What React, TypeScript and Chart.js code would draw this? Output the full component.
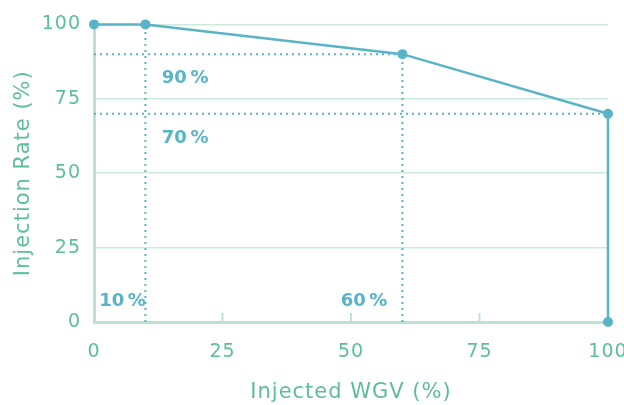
import React, { useEffect, useRef } from "react";
import { Chart, registerables } from "chart.js";

Chart.register(...registerables);

// Data
const curveX = [0, 10, 60, 100, 100];
const curveY = [100, 100, 90, 70, 0];
const guide90X = [0, 60];
const guide90Y = [90, 90];
const guide70X = [0, 100];
const guide70Y = [70, 70];
const guide10X = [10, 10];
const guide10Y = [0, 100];
const guide60X = [60, 60];
const guide60Y = [0, 90];
const xTicks = [0, 25, 50, 75, 100];
const yTicks = [0, 25, 50, 75, 100];
const minorTickMarks = [25, 50, 75];
const annotationTexts = ["90\u2009%", "70\u2009%", "10\u2009%", "60\u2009%"];
const annotationX = [13.2, 13.2, 1, 48];
const annotationY = [81.9, 61.8, 6.9, 6.9];

const LINE = "#58b4c6";
const GREEN = "#5cbf98";
const GRID = "#cdeadd";
const AXIS = "#bde2d1";
const FONT = "'DejaVu Sans', 'Liberation Sans', sans-serif";

const toPts = (xs: number[], ys: number[]) => xs.map((x, i) => ({ x, y: ys[i] }));

const extrasPlugin = {
  id: "extras",
  beforeDraw(chart: any) {
    (chart.ctx as any).letterSpacing = "1px";
  },
  afterDatasetsDraw(chart: any) {
    const { ctx, chartArea, scales } = chart;
    const xs = scales.x;
    const ys = scales.y;
    ctx.save();
    ctx.strokeStyle = AXIS;
    ctx.lineWidth = 2;
    minorTickMarks.forEach((v) => {
      const px = xs.getPixelForValue(v);
      ctx.beginPath();
      ctx.moveTo(px, chartArea.bottom - 9);
      ctx.lineTo(px, chartArea.bottom);
      ctx.stroke();
    });
    ctx.fillStyle = LINE;
    (ctx as any).letterSpacing = "0px";
    ctx.font = "bold 18px " + FONT;
    ctx.textAlign = "left";
    ctx.textBaseline = "middle";
    annotationTexts.forEach((t, i) => {
      ctx.fillText(t, xs.getPixelForValue(annotationX[i]), ys.getPixelForValue(annotationY[i]));
    });
    ctx.restore();
  },
};

export default function App() {
  const ref = useRef<HTMLCanvasElement | null>(null);
  useEffect(() => {
    document.body.style.margin = "0";
    const dotted = (xs: number[], ys: number[]) => ({
      data: toPts(xs, ys),
      showLine: true,
      borderColor: LINE,
      borderWidth: 2,
      borderDash: [2, 4],
      pointRadius: 0,
      fill: false,
      clip: false as any,
    });
    const chart = new Chart(ref.current as HTMLCanvasElement, {
      type: "scatter",
      data: {
        datasets: [
          {
            data: toPts(curveX, curveY),
            showLine: true,
            borderColor: LINE,
            backgroundColor: LINE,
            borderWidth: 2.5,
            pointRadius: 5,
            pointBorderWidth: 0,
            pointBackgroundColor: LINE,
            clip: false as any,
          },
          dotted(guide90X, guide90Y),
          dotted(guide70X, guide70Y),
          dotted(guide10X, guide10Y),
          dotted(guide60X, guide60Y),
        ] as any,
      },
      options: {
        animation: false,
        responsive: true,
        maintainAspectRatio: false,
        layout: { padding: { top: 24, right: 16, left: 0, bottom: 0 } },
        plugins: { legend: { display: false }, tooltip: { enabled: false } },
        scales: {
          x: {
            type: "linear",
            min: 0,
            max: 100,
            afterBuildTicks: (s: any) => {
              s.ticks = xTicks.map((v) => ({ value: v }));
            },
            afterFit: (s: any) => {
              s.height = 83;
              s.paddingLeft = 0;
              s.paddingRight = 0;
            },
            grid: { display: false, drawTicks: false },
            border: { display: true, color: AXIS, width: 3 },
            ticks: {
              color: GREEN,
              padding: 19,
              font: { family: FONT, size: 19, weight: "normal" },
              maxRotation: 0,
            },
            title: {
              display: true,
              text: "Injected WGV (%)",
              color: GREEN,
              font: { family: FONT, size: 21, weight: "normal" },
              padding: { top: 0, bottom: 0 },
            },
          },
          y: {
            type: "linear",
            min: 0,
            max: 100,
            afterBuildTicks: (s: any) => {
              s.ticks = yTicks.map((v) => ({ value: v }));
            },
            afterFit: (s: any) => {
              s.width = 94;
            },
            grid: { color: GRID, lineWidth: 1.5, drawTicks: false },
            border: { display: true, color: AXIS, width: 3 },
            ticks: {
              color: GREEN,
              padding: 13,
              font: { family: FONT, size: 19, weight: "normal" },
            },
            title: {
              display: true,
              text: "Injection Rate (%)",
              color: GREEN,
              font: { family: FONT, size: 21, weight: "normal" },
              padding: { top: 11, bottom: 0 },
            },
          },
        },
      },
      plugins: [extrasPlugin],
    });
    return () => chart.destroy();
  }, []);
  return (
    <div style={{ width: 624, height: 405, position: "relative" }}>
      <canvas ref={ref} />
    </div>
  );
}
